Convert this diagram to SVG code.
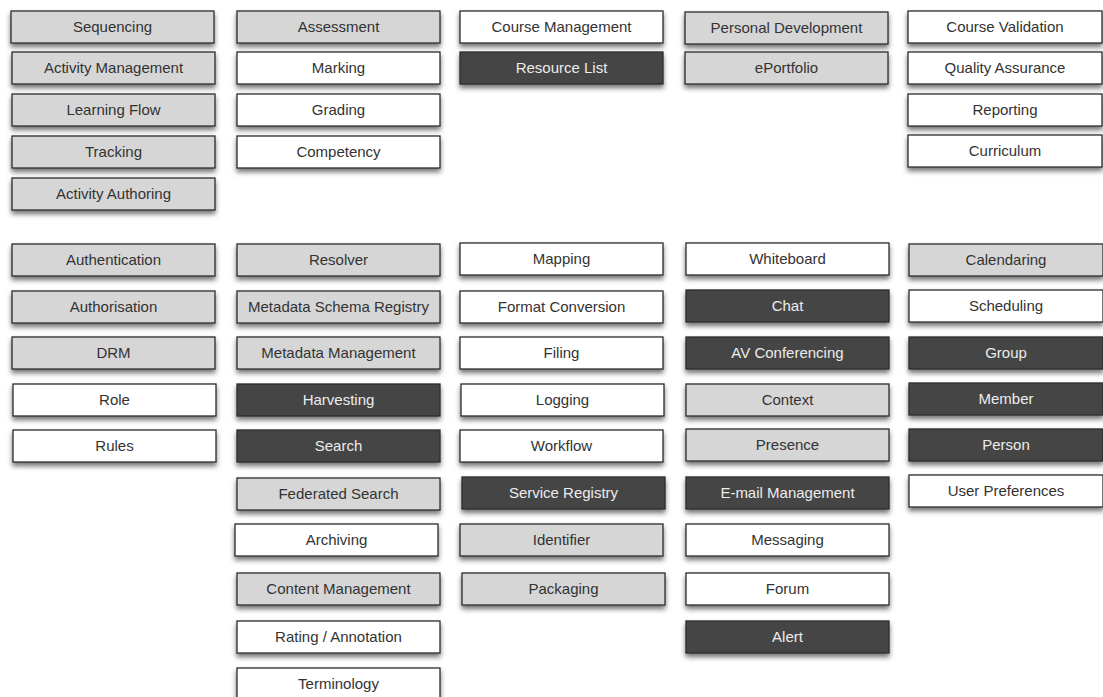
<svg xmlns="http://www.w3.org/2000/svg" width="1103" height="697" viewBox="0 0 1103 697">
  <defs>
    <filter id="shadow" x="-10%" y="-30%" width="120%" height="180%">
      <feDropShadow dx="0" dy="3.5" stdDeviation="2.4" flood-color="#000" flood-opacity="0.55"/>
    </filter>
    <style>
      .node rect { stroke: #2b2b2b; stroke-width: 1.3; filter: url(#shadow); }
      .node text { font-family: "Liberation Sans", Arial, Helvetica, sans-serif; font-size: 15px; text-anchor: middle; fill: #333; }
      .gray rect { fill: #d6d6d6; }
      .white rect { fill: #ffffff; }
      .dark rect { fill: #454545; }
      .dark text { fill: #ececec; }
      .w rect { width: 203px; height: 32px; }
      .n rect { width: 194px; height: 32px; }
    </style>
  </defs>
  <rect width="1103" height="697" fill="#ffffff"/>

  <!-- upper band: column 1 -->
  <g id="sequencing" class="node gray w" transform="translate(11,11)"><rect/><text x="101.5" y="21">Sequencing</text></g>
  <g id="activity-management" class="node gray w" transform="translate(12,52)"><rect/><text x="101.5" y="21">Activity Management</text></g>
  <g id="learning-flow" class="node gray w" transform="translate(12,94)"><rect/><text x="101.5" y="21">Learning Flow</text></g>
  <g id="tracking" class="node gray w" transform="translate(12,136)"><rect/><text x="101.5" y="21">Tracking</text></g>
  <g id="activity-authoring" class="node gray w" transform="translate(12,178)"><rect/><text x="101.5" y="21">Activity Authoring</text></g>

  <!-- upper band: column 2 -->
  <g id="assessment" class="node gray w" transform="translate(237,11)"><rect/><text x="101.5" y="21">Assessment</text></g>
  <g id="marking" class="node white w" transform="translate(237,52)"><rect/><text x="101.5" y="21">Marking</text></g>
  <g id="grading" class="node white w" transform="translate(237,94)"><rect/><text x="101.5" y="21">Grading</text></g>
  <g id="competency" class="node white w" transform="translate(237,136)"><rect/><text x="101.5" y="21">Competency</text></g>

  <!-- upper band: column 3 -->
  <g id="course-management" class="node white w" transform="translate(460,11)"><rect/><text x="101.5" y="21">Course Management</text></g>
  <g id="resource-list" class="node dark w" transform="translate(460,52)"><rect/><text x="101.5" y="21">Resource List</text></g>

  <!-- upper band: column 4 -->
  <g id="personal-development" class="node gray w" transform="translate(685,12)"><rect/><text x="101.5" y="21">Personal Development</text></g>
  <g id="eportfolio" class="node gray w" transform="translate(685,52)"><rect/><text x="101.5" y="21">ePortfolio</text></g>

  <!-- upper band: column 5 -->
  <g id="course-validation" class="node white n" transform="translate(908,11)"><rect/><text x="97" y="21">Course Validation</text></g>
  <g id="quality-assurance" class="node white n" transform="translate(908,52)"><rect/><text x="97" y="21">Quality Assurance</text></g>
  <g id="reporting" class="node white n" transform="translate(908,94)"><rect/><text x="97" y="21">Reporting</text></g>
  <g id="curriculum" class="node white n" transform="translate(908,135)"><rect/><text x="97" y="21">Curriculum</text></g>

  <!-- lower band: column 1 -->
  <g id="authentication" class="node gray w" transform="translate(12,244)"><rect/><text x="101.5" y="21">Authentication</text></g>
  <g id="authorisation" class="node gray w" transform="translate(12,291)"><rect/><text x="101.5" y="21">Authorisation</text></g>
  <g id="drm" class="node gray w" transform="translate(12,337)"><rect/><text x="101.5" y="21">DRM</text></g>
  <g id="role" class="node white w" transform="translate(13,384)"><rect/><text x="101.5" y="21">Role</text></g>
  <g id="rules" class="node white w" transform="translate(13,430)"><rect/><text x="101.5" y="21">Rules</text></g>

  <!-- lower band: column 2 -->
  <g id="resolver" class="node gray w" transform="translate(237,244)"><rect/><text x="101.5" y="21">Resolver</text></g>
  <g id="metadata-schema-registry" class="node gray w" transform="translate(237,291)"><rect/><text x="101.5" y="21">Metadata Schema Registry</text></g>
  <g id="metadata-management" class="node gray w" transform="translate(237,337)"><rect/><text x="101.5" y="21">Metadata Management</text></g>
  <g id="harvesting" class="node dark w" transform="translate(237,384)"><rect/><text x="101.5" y="21">Harvesting</text></g>
  <g id="search" class="node dark w" transform="translate(237,430)"><rect/><text x="101.5" y="21">Search</text></g>
  <g id="federated-search" class="node gray w" transform="translate(237,478)"><rect/><text x="101.5" y="21">Federated Search</text></g>
  <g id="archiving" class="node white w" transform="translate(235,524)"><rect/><text x="101.5" y="21">Archiving</text></g>
  <g id="content-management" class="node gray w" transform="translate(237,573)"><rect/><text x="101.5" y="21">Content Management</text></g>
  <g id="rating-annotation" class="node white w" transform="translate(237,621)"><rect/><text x="101.5" y="21">Rating / Annotation</text></g>
  <g id="terminology" class="node white w" transform="translate(237,668)"><rect/><text x="101.5" y="21">Terminology</text></g>

  <!-- lower band: column 3 -->
  <g id="mapping" class="node white w" transform="translate(460,243)"><rect/><text x="101.5" y="21">Mapping</text></g>
  <g id="format-conversion" class="node white w" transform="translate(460,291)"><rect/><text x="101.5" y="21">Format Conversion</text></g>
  <g id="filing" class="node white w" transform="translate(460,337)"><rect/><text x="101.5" y="21">Filing</text></g>
  <g id="logging" class="node white w" transform="translate(461,384)"><rect/><text x="101.5" y="21">Logging</text></g>
  <g id="workflow" class="node white w" transform="translate(460,430)"><rect/><text x="101.5" y="21">Workflow</text></g>
  <g id="service-registry" class="node dark w" transform="translate(462,477)"><rect/><text x="101.5" y="21">Service Registry</text></g>
  <g id="identifier" class="node gray w" transform="translate(460,524)"><rect/><text x="101.5" y="21">Identifier</text></g>
  <g id="packaging" class="node gray w" transform="translate(462,573)"><rect/><text x="101.5" y="21">Packaging</text></g>

  <!-- lower band: column 4 -->
  <g id="whiteboard" class="node white w" transform="translate(686,243)"><rect/><text x="101.5" y="21">Whiteboard</text></g>
  <g id="chat" class="node dark w" transform="translate(686,290)"><rect/><text x="101.5" y="21">Chat</text></g>
  <g id="av-conferencing" class="node dark w" transform="translate(686,337)"><rect/><text x="101.5" y="21">AV Conferencing</text></g>
  <g id="context" class="node gray w" transform="translate(686,384)"><rect/><text x="101.5" y="21">Context</text></g>
  <g id="presence" class="node gray w" transform="translate(686,429)"><rect/><text x="101.5" y="21">Presence</text></g>
  <g id="email-management" class="node dark w" transform="translate(686,477)"><rect/><text x="101.5" y="21">E-mail Management</text></g>
  <g id="messaging" class="node white w" transform="translate(686,524)"><rect/><text x="101.5" y="21">Messaging</text></g>
  <g id="forum" class="node white w" transform="translate(686,573)"><rect/><text x="101.5" y="21">Forum</text></g>
  <g id="alert" class="node dark w" transform="translate(686,621)"><rect/><text x="101.5" y="21">Alert</text></g>

  <!-- lower band: column 5 -->
  <g id="calendaring" class="node gray n" transform="translate(909,244)"><rect/><text x="97" y="21">Calendaring</text></g>
  <g id="scheduling" class="node white n" transform="translate(909,290)"><rect/><text x="97" y="21">Scheduling</text></g>
  <g id="group" class="node dark n" transform="translate(909,337)"><rect/><text x="97" y="21">Group</text></g>
  <g id="member" class="node dark n" transform="translate(909,383)"><rect/><text x="97" y="21">Member</text></g>
  <g id="person" class="node dark n" transform="translate(909,429)"><rect/><text x="97" y="21">Person</text></g>
  <g id="user-preferences" class="node white n" transform="translate(909,475)"><rect/><text x="97" y="21">User Preferences</text></g>

  <!-- no connectors are drawn between these service blocks -->
  <g id="connectors"/>
</svg>
